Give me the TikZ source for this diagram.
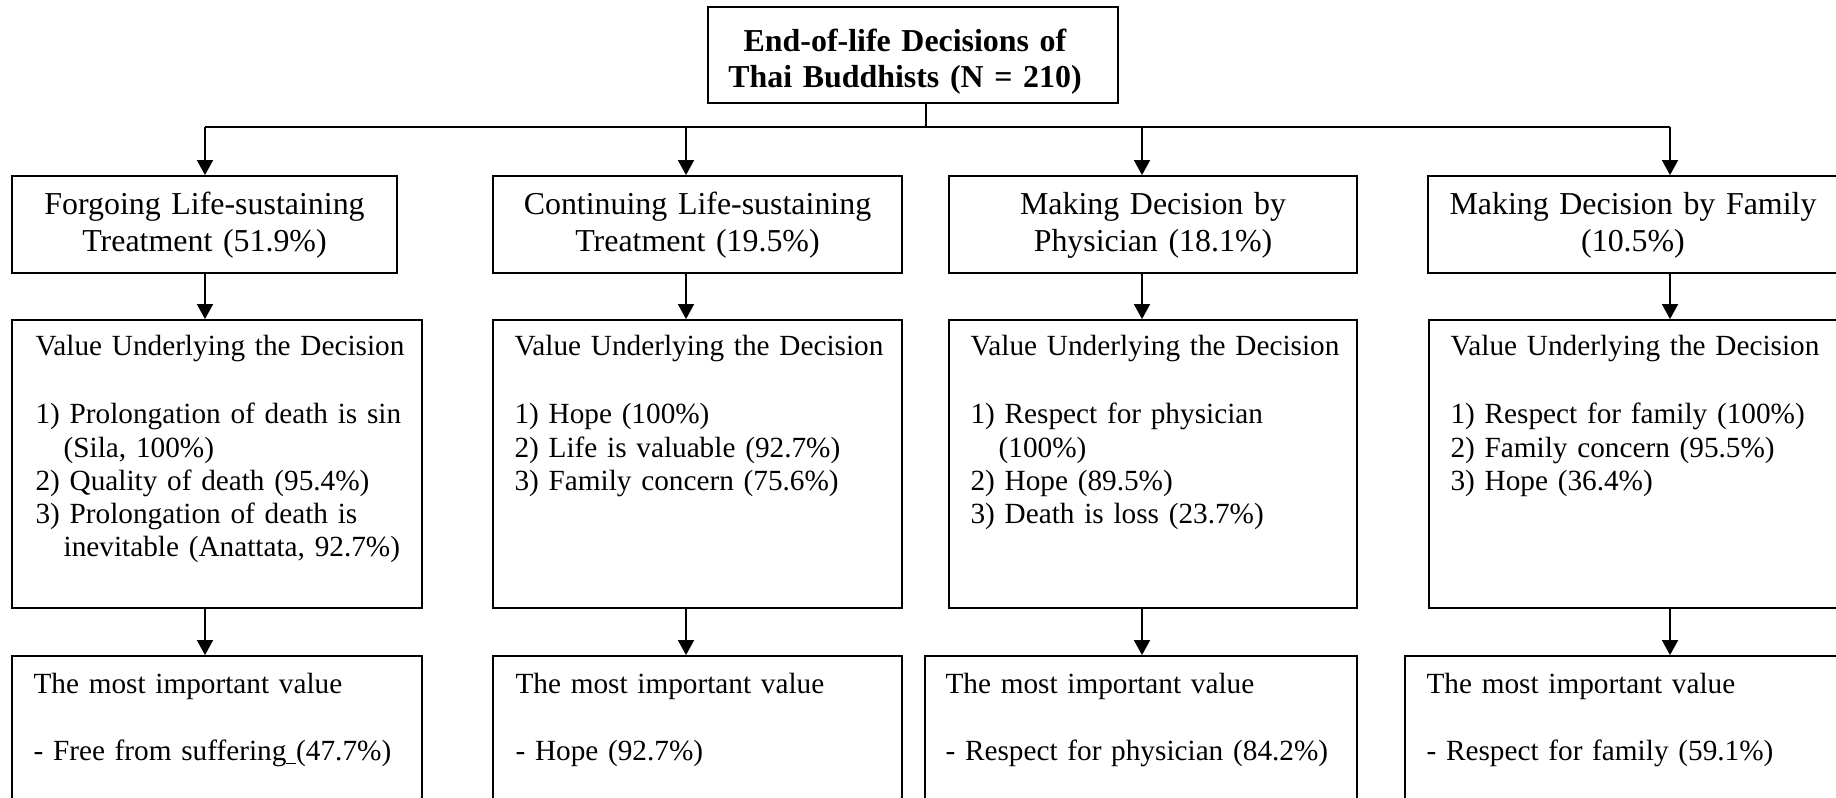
\documentclass[tikz,border=0pt]{standalone}
\usepackage{fontspec}
\setmainfont{Liberation Serif}
\usetikzlibrary{arrows.meta,fit}

\tikzset{
  box/.style={draw, line width=0.7pt, inner sep=0pt, rectangle},
  conn/.style={line width=0.6pt},
  arr/.style={conn, -{Triangle[length=5.6pt,width=6pt]}},
  toptext/.style={inner sep=0pt, anchor=base, align=center, text width=160pt,
    font=\bfseries\fontsize{12}{13.5}\selectfont},
  headtext/.style={inner sep=0pt, anchor=base, align=center, text width=160pt,
    font=\fontsize{12}{13.8}\selectfont},
  bodytext/.style={inner sep=0pt, anchor=base west, align=left, text width=160pt,
    font=\fontsize{11}{12.5}\selectfont},
}
\newcommand\hang{\hspace*{10.6pt}}

\begin{document}
\begin{tikzpicture}[x=0.376pt, y=-0.376pt]
  \useasboundingbox (0,0) rectangle (1836,798);
  \fill[white] (0,0) rectangle (1836,798);
  \clip (0,0) rectangle (1836,798);

  % title
  \node[box, fit={(708,7) (1118,103)}] (top) {};
  \node[toptext] (ttop) at (905,52) {End-of-life Decisions of\\Thai Buddhists (N = 210)};

  % decision boxes
  \node[box, fit={(12,176) (397,273)}] (b11) {};
  \node[box, fit={(493,176) (902,273)}] (b12) {};
  \node[box, fit={(949,176) (1357,273)}] (b13) {};
  \node[box, fit={(1428,176) (1840,273)}] (b14) {};
  \node[headtext] (t11) at (204.5,215) {Forgoing Life-sustaining\\Treatment (51.9\%)};
  \node[headtext] (t12) at (697.5,215) {Continuing Life-sustaining\\Treatment (19.5\%)};
  \node[headtext] (t13) at (1153,215) {Making Decision by\\Physician (18.1\%)};
  \node[headtext] (t14) at (1633,215) {Making Decision by Family\\(10.5\%)};

  % values underlying each decision
  \node[box, fit={(12,320) (422,608)}] (b21) {};
  \node[box, fit={(493,320) (902,608)}] (b22) {};
  \node[box, fit={(949,320) (1357,608)}] (b23) {};
  \node[box, fit={(1429,320) (1842,608)}] (b24) {};
  \node[bodytext] (h21) at (35,356) {Value Underlying the Decision};
  \node[bodytext] (h22) at (514,356) {Value Underlying the Decision};
  \node[bodytext] (h23) at (970,356) {Value Underlying the Decision};
  \node[bodytext] (h24) at (1450,356) {Value Underlying the Decision};
  \node[bodytext] (l21) at (35,424) {1) Prolongation of death is sin\\
    \hang(Sila, 100\%)\\
    2) Quality of death (95.4\%)\\
    3) Prolongation of death is\\
    \hang inevitable (Anattata, 92.7\%)};
  \node[bodytext] (l22) at (514,424) {1) Hope (100\%)\\
    2) Life is valuable (92.7\%)\\
    3) Family concern (75.6\%)};
  \node[bodytext] (l23) at (970,424) {1) Respect for physician\\
    \hang(100\%)\\
    2) Hope (89.5\%)\\
    3) Death is loss (23.7\%)};
  \node[bodytext] (l24) at (1450,424) {1) Respect for family (100\%)\\
    2) Family concern (95.5\%)\\
    3) Hope (36.4\%)};

  % most important value
  \node[box, fit={(12,656) (422,830)}] (b31) {};
  \node[box, fit={(493,656) (902,830)}] (b32) {};
  \node[box, fit={(925,656) (1357,830)}] (b33) {};
  \node[box, fit={(1405,656) (1850,830)}] (b34) {};
  \node[bodytext] (h31) at (33,693) {The most important value};
  \node[bodytext] (h32) at (515,693) {The most important value};
  \node[bodytext] (h33) at (945,693) {The most important value};
  \node[bodytext] (h34) at (1426,693) {The most important value};
  \node[bodytext] (m31) at (33,760) {- Free from suffering\underline{\ }(47.7\%)};
  \node[bodytext] (m32) at (515,760) {- Hope (92.7\%)};
  \node[bodytext] (m33) at (945,760) {- Respect for physician (84.2\%)};
  \node[bodytext] (m34) at (1426,760) {- Respect for family (59.1\%)};

  % branching connectors
  \coordinate (j) at (926,127);
  \coordinate (a1) at (205,127);
  \coordinate (a2) at (686,127);
  \coordinate (a3) at (1142,127);
  \coordinate (a4) at (1670,127);
  \draw[conn] (top.south -| j) -- (j);
  \draw[conn] (a1) -- (a4);
  \foreach \c/\n in {a1/1, a2/2, a3/3, a4/4} {
    \draw[arr] (\c) -- (\c |- b1\n.north);
    \draw[arr] (\c |- b1\n.south) -- (\c |- b2\n.north);
    \draw[arr] (\c |- b2\n.south) -- (\c |- b3\n.north);
  }
\end{tikzpicture}
\end{document}
